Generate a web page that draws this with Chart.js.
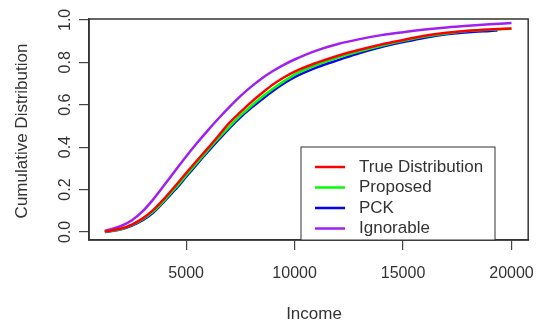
<html lang="en">
  <head>
    <meta charset="UTF-8" />
    <title>Cumulative Distribution of Income</title>
    <style>
      body { margin: 0; background: #fff; }
      #wrap { width: 548px; height: 325px; position: relative; }
    </style>
  </head>
  <body>
    <div id="wrap"><canvas id="myChart"></canvas></div>
    <script src="https://cdn.jsdelivr.net/npm/chart.js@4.4.1/dist/chart.umd.min.js"></script>
    <script>
        // data
        var income = [1250, 2000, 2500, 3000, 3500, 4000, 4500, 5000, 5500, 6000, 6500, 7000, 7500, 8000,
                      8500, 9000, 9500, 10000, 11000, 12000, 13000, 14000, 15000, 16000, 17000, 18000, 19000, 20000];
        var trueDist = [0.002, 0.016, 0.035, 0.064, 0.105, 0.158, 0.217, 0.278, 0.337, 0.395, 0.455, 0.515, 0.565, 0.612,
                        0.655, 0.695, 0.728, 0.756, 0.797, 0.831, 0.859, 0.884, 0.905, 0.925, 0.939, 0.949, 0.955, 0.959];
        var proposed = [0.0, 0.014, 0.033, 0.06, 0.098, 0.15, 0.207, 0.267, 0.327, 0.386, 0.443, 0.497, 0.548, 0.594,
                        0.636, 0.675, 0.71, 0.742, 0.787, 0.822, 0.852, 0.878, 0.901, 0.921, 0.936, 0.947, 0.953, 0.958];
        var pck = [0.0, 0.012, 0.03, 0.055, 0.092, 0.145, 0.20, 0.26, 0.32, 0.378, 0.435, 0.49, 0.54, 0.585,
                   0.626, 0.665, 0.70, 0.73, 0.775, 0.81, 0.844, 0.872, 0.895, 0.916, 0.932, 0.942, 0.948, 0.950];
        var pckEnd = 19350;  // PCK curve stops a little short of 20000
        var ignorable = [0.005, 0.028, 0.055, 0.098, 0.156, 0.222, 0.29, 0.356, 0.419, 0.479, 0.536, 0.59, 0.64, 0.685,
                         0.725, 0.759, 0.788, 0.813, 0.855, 0.886, 0.909, 0.928, 0.942, 0.954, 0.964, 0.972, 0.979, 0.985];
        var xTicks = [5000, 10000, 15000, 20000];
        var yTicks = [0.0, 0.2, 0.4, 0.6, 0.8, 1.0];

        function pts(xs, ys) {
            return ys.map(function (v, i) { return {x: xs[i], y: v}; });
        }
        var pckIncome = income.slice(0, -1).concat([pckEnd]);

        var txt = '#333';
        var fontFam = '"Liberation Sans", Arial, sans-serif';

        var extras = {
            id: 'extras',
            afterDraw: function (chart) {
                var c = chart.ctx, a = chart.chartArea;
                var ys = chart.scales.y;
                c.save();
                // plot box
                c.strokeStyle = '#333';
                c.lineWidth = 1.5;
                c.strokeRect(a.left, a.top, a.right - a.left, a.bottom - a.top);

                // y tick labels, rotated like R
                c.fillStyle = txt;
                c.font = '16px ' + fontFam;
                c.textAlign = 'center';
                c.textBaseline = 'middle';
                yTicks.forEach(function (t) {
                    var py = ys.getPixelForValue(t);
                    c.save();
                    c.translate(66, py);
                    c.rotate(-Math.PI / 2);
                    c.fillText(t.toFixed(1), 0, 0);
                    c.restore();
                });

                // axis titles
                c.font = '17px ' + fontFam;
                c.fillText('Income', 314, 314);
                c.save();
                c.translate(22, 131);
                c.rotate(-Math.PI / 2);
                c.fillText('Cumulative Distribution', 0, 0);
                c.restore();

                // legend box
                var lx = 301, ly = 147, lw = 194, lh = a.bottom - 147;
                c.fillStyle = '#fff';
                c.fillRect(lx, ly, lw, lh);
                c.strokeStyle = '#333';
                c.lineWidth = 1;
                c.strokeRect(lx, ly, lw, lh);
                c.textAlign = 'left';
                c.font = '17px ' + fontFam;
                chart.data.datasets.forEach(function (ds, i) {
                    var ry = 167 + i * 20.5;
                    c.strokeStyle = ds.borderColor;
                    c.lineWidth = 2.5;
                    c.beginPath();
                    c.moveTo(315, ry);
                    c.lineTo(345, ry);
                    c.stroke();
                    c.fillStyle = txt;
                    c.fillText(ds.label, 359, ry);
                });
                c.restore();
            }
        };

        var ctx = document.getElementById('myChart').getContext('2d');
        var myChart = new Chart(ctx, {
            type: 'line',
            data: {
                datasets: [
                    {label: 'True Distribution', data: pts(income, trueDist), borderColor: '#ff0000'},
                    {label: 'Proposed', data: pts(income, proposed), borderColor: '#00ff00'},
                    {label: 'PCK', data: pts(pckIncome, pck), borderColor: '#0000ff'},
                    {label: 'Ignorable', data: pts(income, ignorable), borderColor: '#a020f0'}
                ]
            },
            options: {
                responsive: true,
                maintainAspectRatio: false,
                animation: false,
                elements: {
                    point: {radius: 0},
                    line: {borderWidth: 2.5, cubicInterpolationMode: 'monotone', fill: false}
                },
                layout: {padding: {top: 19, right: 7, left: 0, bottom: 0}},
                plugins: {legend: {display: false}, tooltip: {enabled: false}},
                scales: {
                    x: {
                        type: 'linear',
                        min: 520,
                        max: 20770,
                        afterBuildTicks: function (s) { s.ticks = xTicks.map(function (v) { return {value: v}; }); },
                        afterFit: function (s) { s.height = 85; },
                        ticks: {
                            color: txt,
                            font: {size: 16, family: fontFam},
                            padding: 14,
                            maxRotation: 0,
                            callback: function (v) { return String(v); }
                        },
                        grid: {drawOnChartArea: false, drawTicks: true, tickLength: 10, color: '#444', lineWidth: 1.2},
                        border: {display: true, color: '#333', width: 1.5}
                    },
                    y: {
                        min: -0.038,
                        max: 1.004,
                        afterBuildTicks: function (s) { s.ticks = yTicks.map(function (v) { return {value: v}; }); },
                        afterFit: function (s) { s.width = 89; },
                        ticks: {display: false},
                        grid: {drawOnChartArea: false, drawTicks: true, tickLength: 10, color: '#444', lineWidth: 1.2},
                        border: {display: true, color: '#333', width: 1.5}
                    }
                }
            },
            plugins: [extras]
        });
    </script>
  </body>
</html>
